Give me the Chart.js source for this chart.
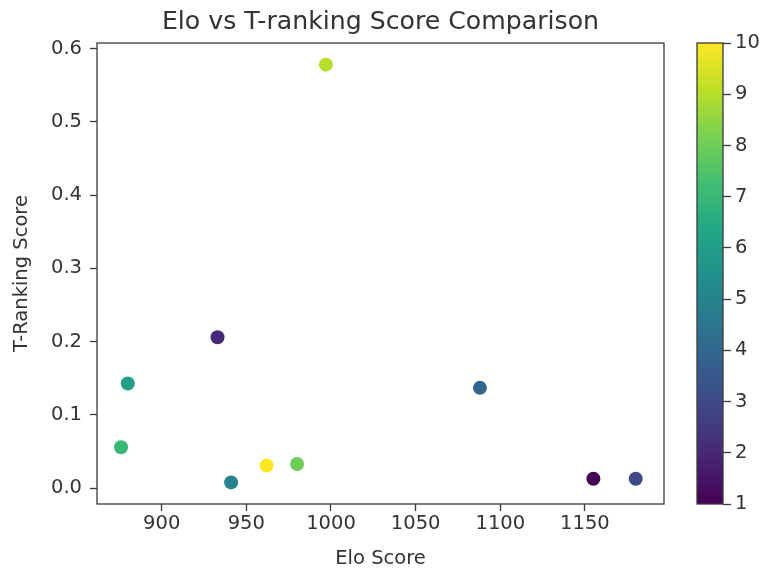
<!DOCTYPE html>
<html>
<head>
<meta charset="utf-8">
<script src="https://cdn.jsdelivr.net/npm/chart.js@4.4.1/dist/chart.umd.min.js"></script>
<style>
  html, body { margin: 0; padding: 0; background: #fff; }
  #wrap { position: relative; width: 762px; height: 571px; }
  #main { position: absolute; left: 0; top: 0; }
  #cbar { position: absolute; left: 664px; top: 0; }
</style>
</head>
<body>
<div id="wrap">
  <canvas id="main" width="762" height="571"></canvas>
  <canvas id="cbar" width="98" height="571"></canvas>
</div>
<script>
// data
const eloScores = [1155, 933, 1180, 1088, 941, 880, 876, 980, 997, 962];
const tRankScores = [0.013, 0.206, 0.013, 0.137, 0.008, 0.143, 0.056, 0.033, 0.578, 0.031];
const colorValues = [1, 2, 3, 4, 5, 6, 7, 8, 9, 10];
const colorTicks = [1, 2, 3, 4, 5, 6, 7, 8, 9, 10];

// viridis stops
const viridis = ['#440154', '#482475', '#414487', '#355f8d', '#2a788e', '#21918c',
                 '#22a884', '#44bf70', '#7ad151', '#bddf26', '#fde725'];
const cMin = 1, cMax = 10;

function hexToRgb(h) {
    return [parseInt(h.slice(1, 3), 16), parseInt(h.slice(3, 5), 16), parseInt(h.slice(5, 7), 16)];
}
function viridisAt(t) {
    t = Math.max(0, Math.min(1, t));
    const pos = t * (viridis.length - 1);
    const i = Math.min(Math.floor(pos), viridis.length - 2);
    const f = pos - i;
    const a = hexToRgb(viridis[i]), b = hexToRgb(viridis[i + 1]);
    const c = a.map((v, k) => Math.round(v + (b[k] - v) * f));
    return `rgb(${c[0]},${c[1]},${c[2]})`;
}

const FONT = "'DejaVu Sans', sans-serif";
const TXT = '#333';
const AX = '#3a3a3a';
const TICK_SIZE = 19.5;

// draws the full box around the plotting area (matplotlib spines)
const frame = {
    id: 'frame',
    afterDraw(chart) {
        const { ctx, chartArea: a } = chart;
        ctx.save();
        ctx.strokeStyle = AX;
        ctx.lineWidth = 1.3;
        ctx.strokeRect(a.left, a.top, a.right - a.left, a.bottom - a.top);
        ctx.restore();
    }
};

const points = eloScores.map((x, i) => ({ x: x, y: tRankScores[i] }));

new Chart(document.getElementById('main'), {
    type: 'scatter',
    data: {
        datasets: [{
            data: points,
            pointRadius: 7,
            pointHoverRadius: 7,
            pointBorderWidth: 0,
            pointBackgroundColor: colorValues.map(v => viridisAt((v - cMin) / (cMax - cMin)))
        }]
    },
    options: {
        responsive: false,
        animation: false,
        layout: { padding: { left: 0, right: 98, top: 0, bottom: 0 } },
        plugins: {
            legend: { display: false },
            tooltip: { enabled: false },
            title: {
                display: true,
                fullSize: false,
                text: 'Elo vs T-ranking Score Comparison',
                color: TXT,
                font: { family: FONT, size: 25.2, weight: 'normal', lineHeight: 1.2 },
                padding: { top: 7.5, bottom: 5.3 }
            }
        },
        scales: {
            x: {
                type: 'linear',
                min: 861.8,
                max: 1196.7,
                afterFit(s) { s.height = 67; },
                ticks: {
                    stepSize: 50,
                    includeBounds: false,
                    color: TXT,
                    padding: 1,
                    maxRotation: 0,
                    font: { family: FONT, size: TICK_SIZE },
                    callback: v => String(v)
                },
                grid: { drawOnChartArea: false, tickLength: 7, tickColor: AX, tickWidth: 1.3 },
                border: { display: false },
                title: {
                    display: true,
                    text: 'Elo Score',
                    color: TXT,
                    font: { family: FONT, size: TICK_SIZE },
                    padding: { top: 0, bottom: 0 }
                }
            },
            y: {
                type: 'linear',
                min: -0.0215,
                max: 0.6075,
                afterFit(s) { s.width = 97; },
                ticks: {
                    stepSize: 0.1,
                    includeBounds: false,
                    color: TXT,
                    padding: 8,
                    font: { family: FONT, size: TICK_SIZE },
                    callback: v => v.toFixed(1)
                },
                grid: { drawOnChartArea: false, tickLength: 7, tickColor: AX, tickWidth: 1.3 },
                border: { display: false },
                title: {
                    display: true,
                    text: 'T-Ranking Score',
                    color: TXT,
                    font: { family: FONT, size: TICK_SIZE },
                    padding: { top: 10, bottom: 0 }
                }
            }
        }
    },
    plugins: [frame]
});

// colour bar as a floating bar with a viridis gradient
new Chart(document.getElementById('cbar'), {
    type: 'bar',
    data: {
        labels: ['c'],
        datasets: [{
            data: [[cMin, cMax]],
            barPercentage: 1,
            categoryPercentage: 1,
            borderWidth: 0,
            backgroundColor(ctx) {
                const chart = ctx.chart;
                const y = chart.scales.y;
                if (!chart.chartArea || !y) return viridis[0];
                const y0 = y.getPixelForValue(cMin), y1 = y.getPixelForValue(cMax);
                if (!isFinite(y0) || !isFinite(y1)) return viridis[0];
                const g = chart.ctx.createLinearGradient(0, y0, 0, y1);
                viridis.forEach((c, i) => g.addColorStop(i / (viridis.length - 1), c));
                return g;
            }
        }]
    },
    options: {
        responsive: false,
        animation: false,
        layout: { padding: { left: 33, right: 0, top: 43, bottom: 67 } },
        plugins: { legend: { display: false }, tooltip: { enabled: false } },
        scales: {
            x: { display: false },
            y: {
                position: 'right',
                min: cMin,
                max: cMax,
                afterFit(s) { s.width = 39; },
                afterBuildTicks(s) { s.ticks = colorTicks.map(v => ({ value: v })); },
                ticks: { color: TXT, padding: 4, font: { family: FONT, size: TICK_SIZE } },
                grid: { drawOnChartArea: false, tickLength: 8, tickColor: AX, tickWidth: 1.3 },
                border: { display: false }
            }
        }
    },
    plugins: [frame]
});
</script>
</body>
</html>
